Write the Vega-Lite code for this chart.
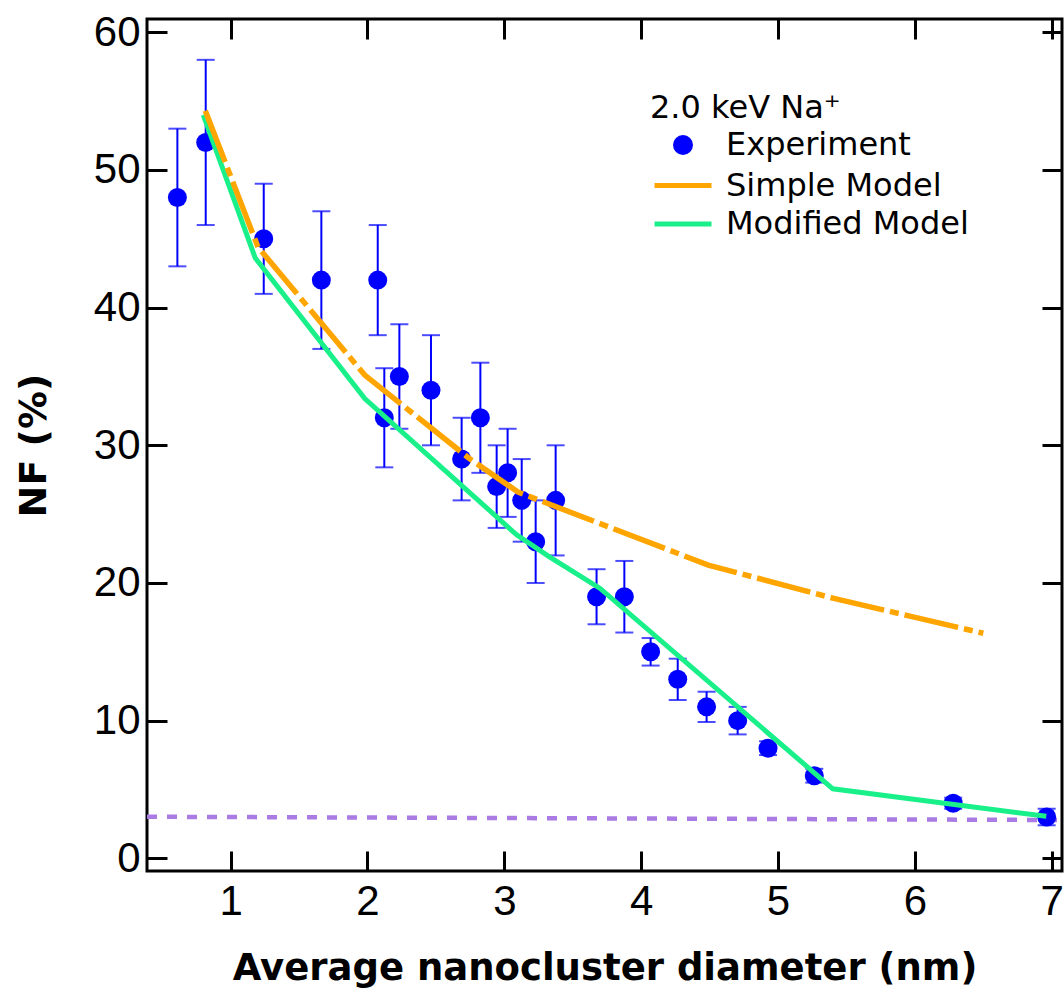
{
  "$schema": "https://vega.github.io/schema/vega-lite/v6.json",
  "width": 915,
  "height": 852,
  "autosize": {"type": "none"},
  "padding": {"left": 147, "top": 19, "right": 2, "bottom": 123},
  "background": "white",
  "config": {
    "view": {"stroke": "black", "strokeWidth": 3},
    "axis": {
      "domain": false,
      "grid": false,
      "tickColor": "black",
      "tickWidth": 3,
      "tickSize": -20,
      "labelFont": "Liberation Sans",
      "labelFontSize": 42,
      "labelColor": "black",
      "labelFlush": false,
      "labelBound": false,
      "labelOverlap": false,
      "titleFont": "DejaVu Sans",
      "titleFontWeight": "bold",
      "titleColor": "black"
    }
  },
  "datasets": {
    "floor": [
      {"x": 0.389, "y": 3.02},
      {"x": 7.075, "y": 2.78}
    ],
    "exp": [
      {"series": "Experiment", "x": 0.611, "y": 48, "lo": 43, "hi": 53},
      {"series": "Experiment", "x": 0.818, "y": 52, "lo": 46, "hi": 58},
      {"series": "Experiment", "x": 1.242, "y": 45, "lo": 41, "hi": 49},
      {"series": "Experiment", "x": 1.663, "y": 42, "lo": 37, "hi": 47},
      {"series": "Experiment", "x": 2.075, "y": 42, "lo": 38, "hi": 46},
      {"series": "Experiment", "x": 2.123, "y": 32, "lo": 28.4, "hi": 35.6},
      {"series": "Experiment", "x": 2.233, "y": 35, "lo": 31.2, "hi": 38.8},
      {"series": "Experiment", "x": 2.464, "y": 34, "lo": 30, "hi": 38},
      {"series": "Experiment", "x": 2.688, "y": 29, "lo": 26, "hi": 32},
      {"series": "Experiment", "x": 2.825, "y": 32, "lo": 28, "hi": 36},
      {"series": "Experiment", "x": 2.944, "y": 27, "lo": 24, "hi": 30},
      {"series": "Experiment", "x": 3.024, "y": 28, "lo": 24.8, "hi": 31.2},
      {"series": "Experiment", "x": 3.127, "y": 26, "lo": 23, "hi": 29},
      {"series": "Experiment", "x": 3.229, "y": 23, "lo": 20, "hi": 26},
      {"series": "Experiment", "x": 3.375, "y": 26, "lo": 22, "hi": 30},
      {"series": "Experiment", "x": 3.674, "y": 19, "lo": 17, "hi": 21},
      {"series": "Experiment", "x": 3.877, "y": 19, "lo": 16.4, "hi": 21.6},
      {"series": "Experiment", "x": 4.069, "y": 15, "lo": 14, "hi": 16},
      {"series": "Experiment", "x": 4.267, "y": 13, "lo": 11.5, "hi": 14.5},
      {"series": "Experiment", "x": 4.478, "y": 11, "lo": 9.9, "hi": 12.1},
      {"series": "Experiment", "x": 4.705, "y": 10, "lo": 9, "hi": 11},
      {"series": "Experiment", "x": 4.927, "y": 8, "lo": 7.5, "hi": 8.5},
      {"series": "Experiment", "x": 5.265, "y": 6, "lo": 5.5, "hi": 6.5},
      {"series": "Experiment", "x": 6.28, "y": 4, "lo": 3.6, "hi": 4.4},
      {"series": "Experiment", "x": 6.963, "y": 3, "lo": 2.4, "hi": 3.6}
    ],
    "models": [
      {"series": "Simple Model", "x": 0.815, "y": 54.3},
      {"series": "Simple Model", "x": 1.2, "y": 44.4},
      {"series": "Simple Model", "x": 1.98, "y": 35.1},
      {"series": "Simple Model", "x": 2.75, "y": 29.0},
      {"series": "Simple Model", "x": 3.1, "y": 26.6},
      {"series": "Simple Model", "x": 4.49, "y": 21.3},
      {"series": "Simple Model", "x": 5.4, "y": 18.9},
      {"series": "Simple Model", "x": 6.5, "y": 16.35},
      {"series": "Modified Model", "x": 0.8, "y": 54.0},
      {"series": "Modified Model", "x": 1.18, "y": 43.6},
      {"series": "Modified Model", "x": 1.98, "y": 33.4},
      {"series": "Modified Model", "x": 3.09, "y": 23.5},
      {"series": "Modified Model", "x": 3.33, "y": 21.9},
      {"series": "Modified Model", "x": 3.7, "y": 19.6},
      {"series": "Modified Model", "x": 5.4, "y": 5.05},
      {"series": "Modified Model", "x": 6.96, "y": 3.05}
    ]
  },
  "layer": [
    {
      "data": {"name": "floor"},
      "mark": {"type": "line", "color": "#a97be3", "strokeWidth": 4.5, "strokeDash": [10, 10], "clip": true},
      "encoding": {
        "x": {
          "field": "x", "type": "quantitative",
          "scale": {"domain": [0.389, 7.075], "nice": false, "zero": false},
          "axis": {
            "orient": "bottom",
            "values": [1, 2, 3, 4, 5, 6, 7],
            "labelPadding": 30,
            "title": "Average nanocluster diameter (nm)",
            "titleFontSize": 37,
            "titleBaseline": "alphabetic",
            "titleY": 108
          }
        },
        "y": {
          "field": "y", "type": "quantitative",
          "scale": {"domain": [-0.922, 60.966], "nice": false, "zero": false},
          "axis": {
            "orient": "left",
            "values": [0, 10, 20, 30, 40, 50, 60],
            "labelPadding": 27,
            "title": "NF (%)",
            "titleFontSize": 38,
            "titleAngle": -90,
            "titleAlign": "center",
            "titleBaseline": "alphabetic",
            "titleX": -102,
            "titleY": 426
          }
        }
      }
    },
    {
      "data": {"name": "exp"},
      "mark": {"type": "rule", "color": "#0000ff", "strokeWidth": 2},
      "encoding": {
        "x": {"field": "x", "type": "quantitative", "axis": {"orient": "top", "values": [1, 2, 3, 4, 5, 6, 7], "labels": false, "title": null}},
        "y": {"field": "lo", "type": "quantitative", "axis": {"orient": "right", "values": [0, 10, 20, 30, 40, 50, 60], "labels": false, "title": null}},
        "y2": {"field": "hi"}
      }
    },
    {
      "data": {"name": "exp"},
      "mark": {"type": "tick", "orient": "horizontal", "color": "#0000ff", "thickness": 2, "size": 18},
      "encoding": {
        "x": {"field": "x", "type": "quantitative", "axis": null},
        "y": {"field": "hi", "type": "quantitative", "axis": null}
      }
    },
    {
      "data": {"name": "exp"},
      "mark": {"type": "tick", "orient": "horizontal", "color": "#0000ff", "thickness": 2, "size": 18},
      "encoding": {
        "x": {"field": "x", "type": "quantitative", "axis": null},
        "y": {"field": "lo", "type": "quantitative", "axis": null}
      }
    },
    {
      "data": {"name": "exp"},
      "mark": {"type": "point", "filled": true, "size": 361, "opacity": 1},
      "encoding": {
        "x": {"field": "x", "type": "quantitative", "axis": null},
        "y": {"field": "y", "type": "quantitative", "axis": null},
        "shape": {
          "field": "series", "type": "nominal",
          "scale": {"domain": ["Experiment", "Simple Model", "Modified Model"], "range": ["circle", "M-3.8,0H3.8", "M-3.8,0H3.8"]},
          "legend": {"title": "2.0 keV Na⁺", "orient": "none", "legendX": 503, "legendY": 74}
        },
        "color": {
          "field": "series", "type": "nominal",
          "scale": {"domain": ["Experiment", "Simple Model", "Modified Model"], "range": ["#0000ff", "#ffa500", "#19f08a"]},
          "legend": {
            "title": "2.0 keV Na⁺",
            "orient": "none",
            "legendX": 503,
            "legendY": 74,
            "padding": 0,
            "titleFont": "DejaVu Sans",
            "titleFontSize": 32,
            "titleFontWeight": "normal",
            "titleColor": "black",
            "titlePadding": 4,
            "titleLimit": 600,
            "labelFont": "DejaVu Sans",
            "labelFontSize": 32,
            "labelColor": "black",
            "labelLimit": 600,
            "labelOffset": 27,
            "symbolSize": 225,
            "symbolStrokeWidth": 5,
            "symbolOpacity": 1,
            "symbolOffset": 17,
            "rowPadding": 6.5
          }
        }
      }
    },
    {
      "data": {"name": "models"},
      "transform": [{"filter": "datum.series === 'Modified Model'"}],
      "mark": {"type": "line", "strokeWidth": 5},
      "encoding": {
        "x": {"field": "x", "type": "quantitative", "axis": null},
        "y": {"field": "y", "type": "quantitative", "axis": null},
        "color": {"field": "series", "type": "nominal"}
      }
    },
    {
      "data": {"name": "models"},
      "transform": [{"filter": "datum.series === 'Simple Model'"}],
      "mark": {"type": "line", "strokeWidth": 5.5, "strokeDash": [55, 6, 9, 6]},
      "encoding": {
        "x": {"field": "x", "type": "quantitative", "axis": null},
        "y": {"field": "y", "type": "quantitative", "axis": null},
        "color": {"field": "series", "type": "nominal"}
      }
    }
  ],
  "resolve": {"axis": {"x": "independent", "y": "independent"}}
}
